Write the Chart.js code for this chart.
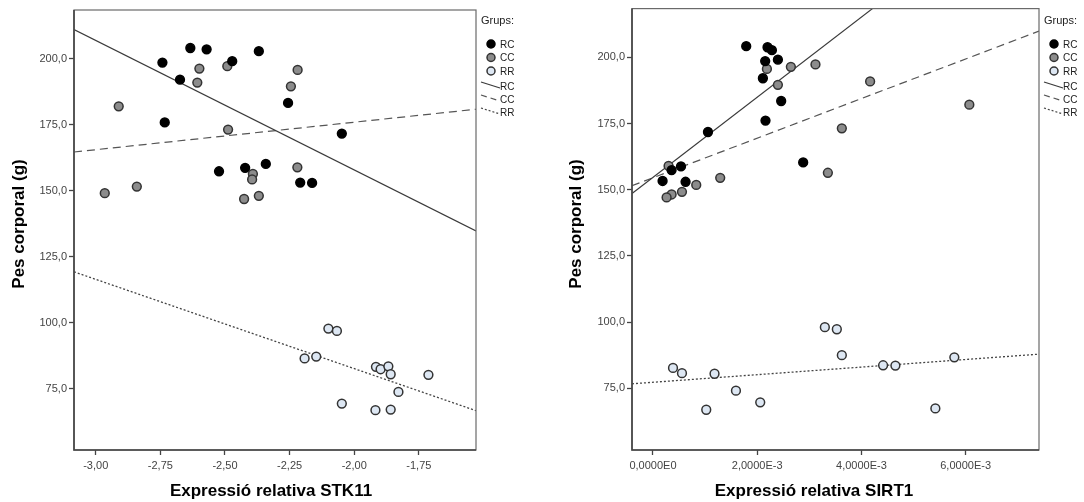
<!DOCTYPE html>
<html>
<head>
<meta charset="utf-8">
<script src="https://cdn.jsdelivr.net/npm/chart.js@4"></script>
<style>
  body { margin: 0; background: #fff; }
  .wrap { position: absolute; top: 0; width: 542px; height: 502px; }
  #left { left: 0; }
  #right { left: 542px; }
</style>
</head>
<body>
<div class="wrap" id="left"><canvas id="stkChart" width="542" height="502"></canvas></div>
<div class="wrap" id="right"><canvas id="sirtChart" width="542" height="502"></canvas></div>
<script>
// groups
const groups = ['RC', 'CC', 'RR'];

// body weight (g) per group, same animals in both plots
const stkRC = [-2.742, -2.634, -2.571, -2.472, -2.369, -2.674, -2.256, -2.733, -2.048, -2.523, -2.422, -2.342, -2.209, -2.163];
const pesRC_stk = [198.5, 204.0, 203.5, 199.0, 202.8, 192.0, 183.2, 175.8, 171.6, 157.3, 158.6, 160.1, 153.0, 152.9];
const stkCC = [-2.599, -2.491, -2.219, -2.607, -2.245, -2.911, -2.488, -2.220, -2.392, -2.395, -2.965, -2.841, -2.426, -2.369];
const pesCC_stk = [196.2, 197.1, 195.7, 190.9, 189.5, 181.9, 173.1, 158.8, 156.3, 154.2, 149.0, 151.5, 146.8, 148.0];
const stkRR = [-2.100, -2.067, -2.192, -2.147, -1.916, -1.898, -1.868, -1.859, -1.713, -1.829, -2.048, -1.918, -1.859];
const pesRR_stk = [97.7, 96.8, 86.4, 87.1, 83.2, 82.3, 83.4, 80.4, 80.2, 73.7, 69.3, 66.8, 67.0];

const sirtRC = [0.001789, 0.002198, 0.002282, 0.002153, 0.002397, 0.002109, 0.00246, 0.002159, 0.001055, 0.002882, 0.000184, 0.000357, 0.000537, 0.000625];
const pesRC_sirt = [204.2, 203.8, 202.7, 198.6, 199.1, 192.1, 183.5, 176.1, 171.8, 160.3, 153.3, 157.4, 158.8, 153.0];
const sirtCC = [0.002186, 0.002646, 0.003118, 0.002397, 0.004167, 0.006071, 0.003624, 0.003356, 0.000299, 0.00129, 0.00083, 0.000556, 0.000357, 0.000261];
const pesCC_sirt = [195.6, 196.4, 197.3, 189.6, 190.9, 182.1, 173.2, 156.4, 159.0, 154.5, 151.8, 149.2, 148.2, 147.1];
const sirtRR = [0.000384, 0.000556, 0.001022, 0.001181, 0.001592, 0.002058, 0.003298, 0.003528, 0.003624, 0.004416, 0.004652, 0.005419, 0.005783];
const pesRR_sirt = [82.7, 80.7, 66.9, 80.5, 74.1, 69.7, 98.1, 97.3, 87.5, 83.7, 83.6, 67.4, 86.7];

// fit lines, end points
const fitStkX = [-3.084, -1.529];
const fitStkRC = [211.0, 134.7];
const fitStkCC = [164.6, 180.8];
const fitStkRR = [119.2, 66.6];
const fitSirtX = [-0.000403, 0.007408];
const fitSirtRC_x = [-0.000403, 0.004219];
const fitSirtRC = [148.6, 218.5];
const fitSirtCC = [151.5, 209.9];
const fitSirtRR = [76.7, 87.9];

// axes
const yTicks = [75, 100, 125, 150, 175, 200];
const yTickLabels = ['75,0', '100,0', '125,0', '150,0', '175,0', '200,0'];
const stkTicks = [-3.0, -2.75, -2.5, -2.25, -2.0, -1.75];
const stkTickLabels = ['-3,00', '-2,75', '-2,50', '-2,25', '-2,00', '-1,75'];
const sirtTicks = [0, 0.002, 0.004, 0.006];
const sirtTickLabels = ['0,0000E0', '2,0000E-3', '4,0000E-3', '6,0000E-3'];

const FONT = 'Liberation Sans, Arial, sans-serif';
const pointStyles = {
    RC: { bg: '#000000', border: '#000000' },
    CC: { bg: '#8c8c8c', border: '#333333' },
    RR: { bg: '#dde7f3', border: '#333333' }
};
const lineStyles = {
    RC: { color: '#3a3a3a', dash: [] },
    CC: { color: '#555555', dash: [8, 5] },
    RR: { color: '#444444', dash: [2, 2] }
};

function pts(xs, ys) {
    return xs.map((x, i) => ({ x: x, y: ys[i] }));
}

function scatterSet(name, xs, ys) {
    return {
        label: name,
        data: pts(xs, ys),
        backgroundColor: pointStyles[name].bg,
        borderColor: pointStyles[name].border,
        borderWidth: 1.5,
        pointRadius: 4.4,
        order: 1
    };
}

function fitSet(name, xs, ys) {
    return {
        label: name,
        type: 'line',
        data: pts(xs, ys),
        showLine: true,
        pointRadius: 0,
        borderColor: lineStyles[name].color,
        borderDash: lineStyles[name].dash,
        borderWidth: name === 'RR' ? 1.3 : 1.2,
        fill: false,
        order: 2
    };
}

// frame, legend and axis titles
const decorPlugin = {
    id: 'decor',
    afterDraw(chart, args, opts) {
        const ctx = chart.ctx;
        const a = chart.chartArea;
        ctx.save();
        ctx.strokeStyle = '#6a6a6a';
        ctx.lineWidth = 1.2;
        ctx.strokeRect(a.left, a.top, a.right - a.left, a.bottom - a.top);
        ctx.strokeStyle = '#444';
        ctx.lineWidth = 1.6;
        ctx.beginPath();
        ctx.moveTo(a.left, a.top);
        ctx.lineTo(a.left, a.bottom);
        ctx.lineTo(a.right, a.bottom);
        ctx.stroke();

        // legend
        const lx = a.right + 5;
        ctx.fillStyle = '#222';
        ctx.font = '11px ' + FONT;
        ctx.textBaseline = 'middle';
        ctx.textAlign = 'left';
        ctx.fillText('Grups:', lx, 21);
        ctx.font = '10px ' + FONT;
        const rowY = [44, 57.5, 71, 86, 99, 112];
        groups.forEach((g, i) => {
            const y = rowY[i];
            ctx.beginPath();
            ctx.arc(lx + 10, y, 4, 0, Math.PI * 2);
            ctx.fillStyle = pointStyles[g].bg;
            ctx.fill();
            ctx.lineWidth = 1.5;
            ctx.strokeStyle = pointStyles[g].border;
            ctx.setLineDash([]);
            ctx.stroke();
            ctx.fillStyle = '#222';
            ctx.fillText(g, lx + 19, y + 1);
        });
        groups.forEach((g, i) => {
            const y = rowY[i + 3];
            ctx.beginPath();
            ctx.setLineDash(g === 'CC' ? [6, 4] : lineStyles[g].dash);
            ctx.strokeStyle = lineStyles[g].color;
            ctx.lineWidth = 1.2;
            ctx.moveTo(lx, y - 4);
            ctx.lineTo(lx + 19, y + 2);
            ctx.stroke();
            ctx.setLineDash([]);
            ctx.fillStyle = '#222';
            ctx.fillText(g, lx + 19, y + 1);
        });

        // axis titles
        ctx.fillStyle = '#000';
        ctx.font = 'bold 17px ' + FONT;
        ctx.textAlign = 'center';
        ctx.fillText(opts.xTitle, opts.xTitleX, 491);
        ctx.translate(opts.yTitleX, 224);
        ctx.rotate(-Math.PI / 2);
        ctx.fillText('Pes corporal (g)', 0, 0);
        ctx.restore();
    }
};

function makeChart(id, datasets, xr, xTicks, xLabels, yAxisWidth, pad, titles) {
    const ticksFrom = (vals) => (scale) => {
        scale.ticks = vals.map(v => ({ value: v }));
    };
    return new Chart(document.getElementById(id), {
        type: 'scatter',
        data: { datasets: datasets },
        plugins: [decorPlugin],
        options: {
            responsive: false,
            animation: false,
            layout: { padding: pad },
            plugins: {
                legend: { display: false },
                tooltip: { enabled: false },
                decor: titles
            },
            scales: {
                x: {
                    type: 'linear',
                    min: xr[0],
                    max: xr[1],
                    afterBuildTicks: ticksFrom(xTicks),
                    afterFit: (s) => { s.height = 52; },
                    grid: { display: true, drawOnChartArea: false, drawTicks: true, tickLength: 5, color: '#444', tickWidth: 1.3 },
                    border: { display: false },
                    ticks: {
                        font: { family: FONT, size: 11 },
                        color: '#444',
                        padding: 4,
                        maxRotation: 0,
                        callback: (v, i) => xLabels[i]
                    }
                },
                y: {
                    type: 'linear',
                    min: 51.7,
                    max: 218.4,
                    afterBuildTicks: ticksFrom(yTicks),
                    afterFit: (s) => { s.width = yAxisWidth; },
                    grid: { display: true, drawOnChartArea: false, drawTicks: true, tickLength: 5, color: '#444', tickWidth: 1.3 },
                    border: { display: false },
                    ticks: {
                        font: { family: FONT, size: 11 },
                        color: '#444',
                        padding: 2,
                        callback: (v, i) => yTickLabels[i]
                    }
                }
            }
        }
    });
}

makeChart('stkChart', [
    scatterSet('RC', stkRC, pesRC_stk),
    scatterSet('CC', stkCC, pesCC_stk),
    scatterSet('RR', stkRR, pesRR_stk),
    fitSet('RC', fitStkX, fitStkRC),
    fitSet('CC', fitStkX, fitStkCC),
    fitSet('RR', fitStkX, fitStkRR)
], [-3.084, -1.529], stkTicks, stkTickLabels, 74,
   { top: 10, right: 66, left: 0, bottom: 0 },
   { xTitle: 'Expressió relativa STK11', xTitleX: 271, yTitleX: 19 });

makeChart('sirtChart', [
    scatterSet('RC', sirtRC, pesRC_sirt),
    scatterSet('CC', sirtCC, pesCC_sirt),
    scatterSet('RR', sirtRR, pesRR_sirt),
    fitSet('RC', fitSirtRC_x, fitSirtRC),
    fitSet('CC', fitSirtX, fitSirtCC),
    fitSet('RR', fitSirtX, fitSirtRR)
], [-0.000403, 0.007408], sirtTicks, sirtTickLabels, 90,
   { top: 7, right: 45, left: 0, bottom: 0 },
   { xTitle: 'Expressió relativa SIRT1', xTitleX: 272, yTitleX: 34 });
</script>
</body>
</html>
